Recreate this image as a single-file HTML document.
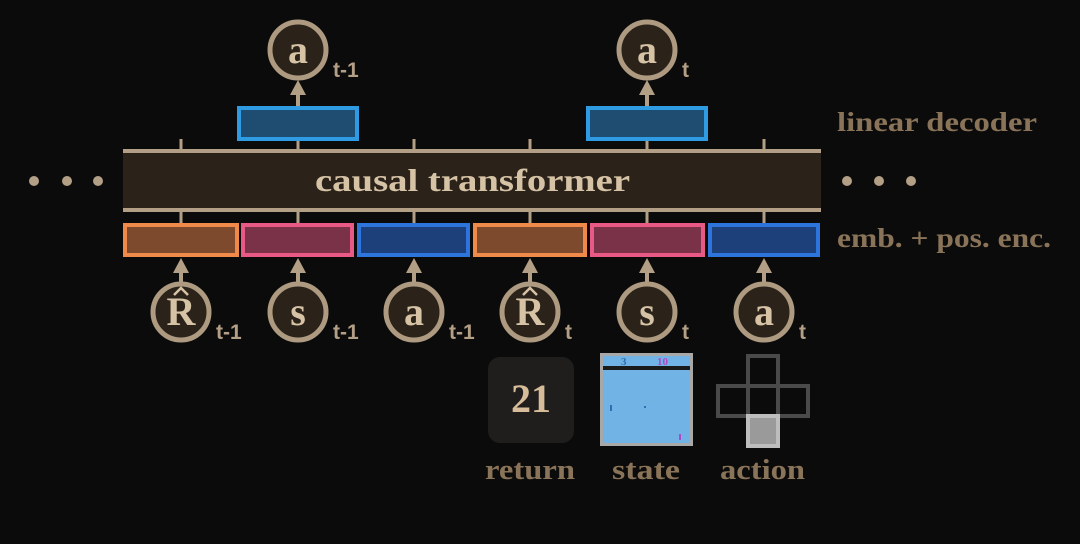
<!DOCTYPE html>
<html><head><meta charset="utf-8"><style>
html,body{margin:0;padding:0;background:#0c0b0b;}
svg{display:block}
text{font-family:"Liberation Serif",serif;font-weight:bold}
.sub{font-family:"Liberation Sans",sans-serif;font-weight:bold;fill:#b39f85;font-size:21px}
</style></head><body>
<svg width="1080" height="544" viewBox="0 0 1080 544">
<rect width="1080" height="544" fill="#0c0b0b"/>
<g fill="#b39f85"><circle cx="34" cy="181" r="5"/><circle cx="67" cy="181" r="5"/><circle cx="98" cy="181" r="5"/></g>
<g fill="#b39f85"><circle cx="847" cy="181" r="5"/><circle cx="879" cy="181" r="5"/><circle cx="911" cy="181" r="5"/></g>
<g>
<rect x="123" y="151" width="698" height="60" fill="#2b2219"/>
<rect x="123" y="149" width="698" height="4" fill="#b39f85"/>
<rect x="123" y="208" width="698" height="4" fill="#b39f85"/>
<text x="315" y="191" textLength="315" lengthAdjust="spacingAndGlyphs" font-size="32" fill="#d6c3a6">causal transformer</text>
</g>
<g id="ticks" stroke="#b39f85" stroke-width="3"></g>
<g id="tokens"></g>
<g>
<rect x="239" y="108" width="118" height="31" fill="#1f4d72" stroke="#2f9be2" stroke-width="4"/>
<rect x="588" y="108" width="118" height="31" fill="#1f4d72" stroke="#2f9be2" stroke-width="4"/>
</g>
<g id="nodes"></g>
<text x="837" y="131" textLength="200" lengthAdjust="spacingAndGlyphs" font-size="27" fill="#8a7459">linear decoder</text>
<text x="837" y="247" textLength="214" lengthAdjust="spacingAndGlyphs" font-size="27" fill="#8a7459">emb. + pos. enc.</text>
<g>
<rect x="488" y="357" width="86" height="86" rx="12" fill="#1f1e1d"/>
<text x="531" y="412" text-anchor="middle" font-size="40" fill="#d6bc98">21</text>
<text x="485" y="479" textLength="90" lengthAdjust="spacingAndGlyphs" font-size="28" fill="#8a7459">return</text>
</g>
<g>
<rect x="600" y="353" width="93" height="93" fill="#a8a8a8"/>
<rect x="603" y="356" width="87" height="87" fill="#72b3e6"/>
<rect x="603" y="366" width="87" height="4" fill="#1a1a1a"/>
<text x="621" y="365" font-size="11" fill="#2f6fb0" font-family="Liberation Mono">3</text>
<text x="657" y="365" font-size="11" fill="#b048c8" font-family="Liberation Mono">10</text>
<rect x="610" y="405" width="2" height="6" fill="#2f6fb0"/>
<rect x="644" y="406" width="2" height="2" fill="#2f6fb0"/>
<rect x="679" y="434" width="2" height="6" fill="#b048c8"/>
<text x="612" y="479" textLength="68" lengthAdjust="spacingAndGlyphs" font-size="28" fill="#8a7459">state</text>
</g>
<g fill="none" stroke="#4a4a4a" stroke-width="4">
<rect x="748" y="356" width="30" height="30"/>
<rect x="718" y="386" width="30" height="30"/>
<rect x="748" y="386" width="30" height="30"/>
<rect x="778" y="386" width="30" height="30"/>
<rect x="748" y="416" width="30" height="30" fill="#9a9a9a" stroke="#bdbdbd"/>
</g>
<text x="720" y="479" textLength="85" lengthAdjust="spacingAndGlyphs" font-size="28" fill="#8a7459">action</text>
</svg>
<script>
const ns="http://www.w3.org/2000/svg";
const centers=[181,298,414,530,647,764];
const fills=["#7d4a2e","#7a3248","#1d3f7a","#7d4a2e","#7a3248","#1d3f7a"];
const strokes=["#f08a4b","#e85a85","#2d74dc","#f08a4b","#e85a85","#2d74dc"];
const letters=["R","s","a","R","s","a"];
const subs=["t-1","t-1","t-1","t","t","t"];
function mk(tag,attrs,parent){const e=document.createElementNS(ns,tag);for(const k in attrs)e.setAttribute(k,attrs[k]);parent.appendChild(e);return e;}
const ticks=document.getElementById('ticks'),tokens=document.getElementById('tokens'),nodes=document.getElementById('nodes');
const x0=[123,241,357,473,590,708],x1=[239,354,470,587,705,820];
centers.forEach((c,i)=>{
 mk('line',{x1:c,y1:139,x2:c,y2:150},ticks);
 mk('line',{x1:c,y1:211,x2:c,y2:224},ticks);
 const r=mk('rect',{x:x0[i]+2,y:225,width:x1[i]-x0[i]-4,height:30,fill:fills[i],stroke:strokes[i],'stroke-width':4},tokens);
 
 
});
function node(cx,cy,letter,sub,hat){
 const g=mk('g',{},nodes);
 
 
 mk('circle',{cx:cx,cy:cy,r:28,fill:'#2b2219',stroke:'#ad9a80','stroke-width':5},g);
 const t=mk('text',{x:cx,y:cy+13,'text-anchor':'middle','font-size':40,fill:'#d6c3a6'},g);t.textContent=letter;
 if(hat)mk('path',{d:`M${cx-7} ${cy-17} L${cx} ${cy-24} L${cx+7} ${cy-17}`,fill:'none',stroke:'#d6c3a6','stroke-width':2.5},g);
 const s=mk('text',{x:cx+35,y:cy+27,class:'sub'},g);s.textContent=sub;
}
function arrowUp(cx,yFrom,yTip){
 mk('line',{x1:cx,y1:yFrom,x2:cx,y2:yTip+10,stroke:'#b39f85','stroke-width':4},nodes);
 mk('path',{d:`M${cx-8} ${yTip+15} L${cx} ${yTip} L${cx+8} ${yTip+15}Z`,fill:'#b39f85'},nodes);
}
centers.forEach((c,i)=>{arrowUp(c,284,258);node(c,312,letters[i],subs[i],letters[i]==='R');});
arrowUp(298,106,80);node(298,50,'a','t-1',false);
arrowUp(647,106,80);node(647,50,'a','t',false);
</script>
</body></html>
